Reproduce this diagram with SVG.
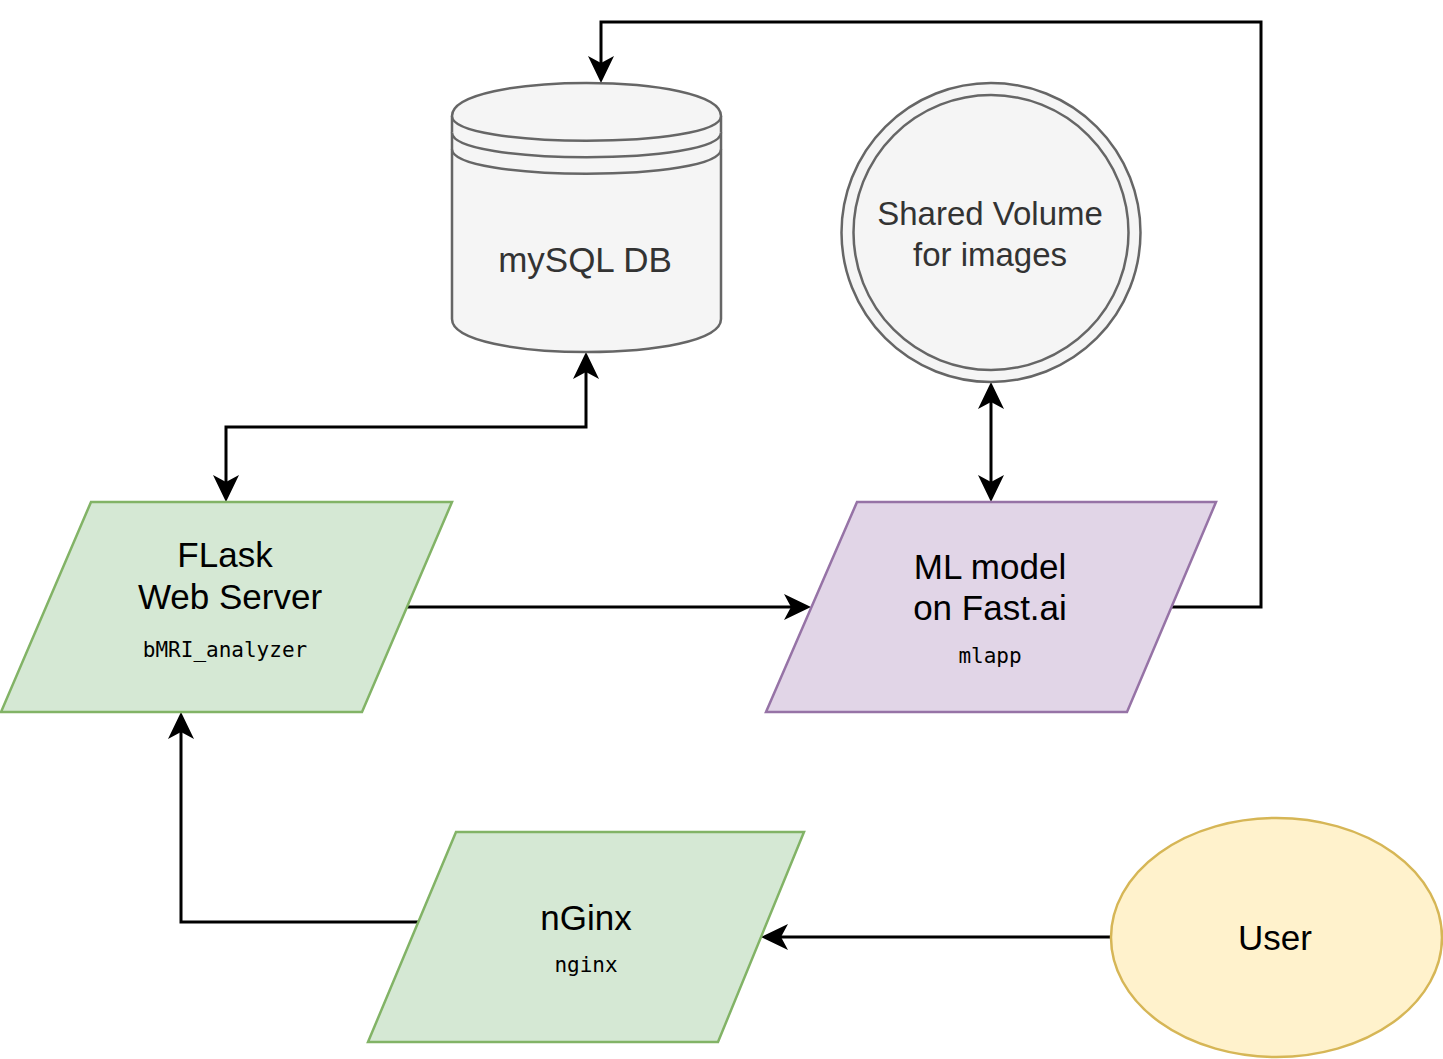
<svg xmlns="http://www.w3.org/2000/svg" width="1443" height="1059" viewBox="0 0 1443 1059">
<style>
.lbl{font-family:"Liberation Sans",Arial,sans-serif;font-size:35px;text-anchor:middle;fill:#000}
.grey{fill:#333333}
.mono{font-family:"DejaVu Sans Mono",monospace;font-size:21px;text-anchor:middle;fill:#000}
.green{fill:#d5e8d4;stroke:#82b366;stroke-width:2.5}
.purple{fill:#e1d5e7;stroke:#9673a6;stroke-width:2.5}
.store{fill:#f5f5f5;stroke:#666666;stroke-width:2.5}
.yellow{fill:#fff2cc;stroke:#d6b656;stroke-width:2.5}
.edge{fill:none;stroke:#000;stroke-width:3}
</style>
<defs>
<marker id="arr" viewBox="0 0 27 26" refX="7" refY="13" markerWidth="27" markerHeight="26" markerUnits="userSpaceOnUse" orient="auto-start-reverse">
<path d="M0,0 L27,13 L0,26 L7,13 Z" fill="#000"/>
</marker>
</defs>
<rect width="1443" height="1059" fill="#ffffff"/>
<g id="connectors">
<path class="edge" d="M226,482 V427 H586 V372" marker-start="url(#arr)" marker-end="url(#arr)"/>
<path class="edge" d="M407,607 H791" marker-end="url(#arr)"/>
<path class="edge" d="M1172,607 H1261 V22 H601 V63" marker-end="url(#arr)"/>
<path class="edge" d="M991,402 V482" marker-start="url(#arr)" marker-end="url(#arr)"/>
<path class="edge" d="M1111,937 H781" marker-end="url(#arr)"/>
<path class="edge" d="M418,922 H181 V732" marker-end="url(#arr)"/>
</g>
<g id="mysql">
<path class="store" d="M452,116 C452,72 721,72 721,116 L721,319 C721,363 452,363 452,319 Z"/>
<path class="store" fill="none" d="M452,116 C452,149 721,149 721,116 M452,132.5 C452,165.5 721,165.5 721,132.5 M452,149 C452,182 721,182 721,149"/>
<text class="lbl grey" x="585" y="272">mySQL DB</text>
</g>
<g id="shared-volume">
<circle class="store" cx="991" cy="232.5" r="149.5"/>
<circle class="store" cx="991" cy="232.5" r="137.5"/>
<text class="lbl grey" style="font-size:33px" x="990" y="225">Shared Volume</text>
<text class="lbl grey" style="font-size:33px" x="990" y="266">for images</text>
</g>
<g id="flask">
<polygon class="green" points="91,502 452,502 362,712 1,712"/>
<text class="lbl" x="225" y="567">FLask</text>
<text class="lbl" x="230" y="609">Web Server</text>
<text class="mono" x="225" y="657">bMRI_analyzer</text>
</g>
<g id="ml-model">
<polygon class="purple" points="857,502 1216,502 1127,712 766,712"/>
<text class="lbl" x="990" y="579">ML model</text>
<text class="lbl" x="990" y="620">on Fast.ai</text>
<text class="mono" x="990" y="663">mlapp</text>
</g>
<g id="nginx">
<polygon class="green" points="456,832 804,832 718,1042 368,1042"/>
<text class="lbl" x="586" y="930">nGinx</text>
<text class="mono" x="586" y="972">nginx</text>
</g>
<g id="user">
<ellipse class="yellow" cx="1276.5" cy="937.5" rx="165.5" ry="119.5"/>
<text class="lbl" x="1275" y="950">User</text>
</g>
</svg>
